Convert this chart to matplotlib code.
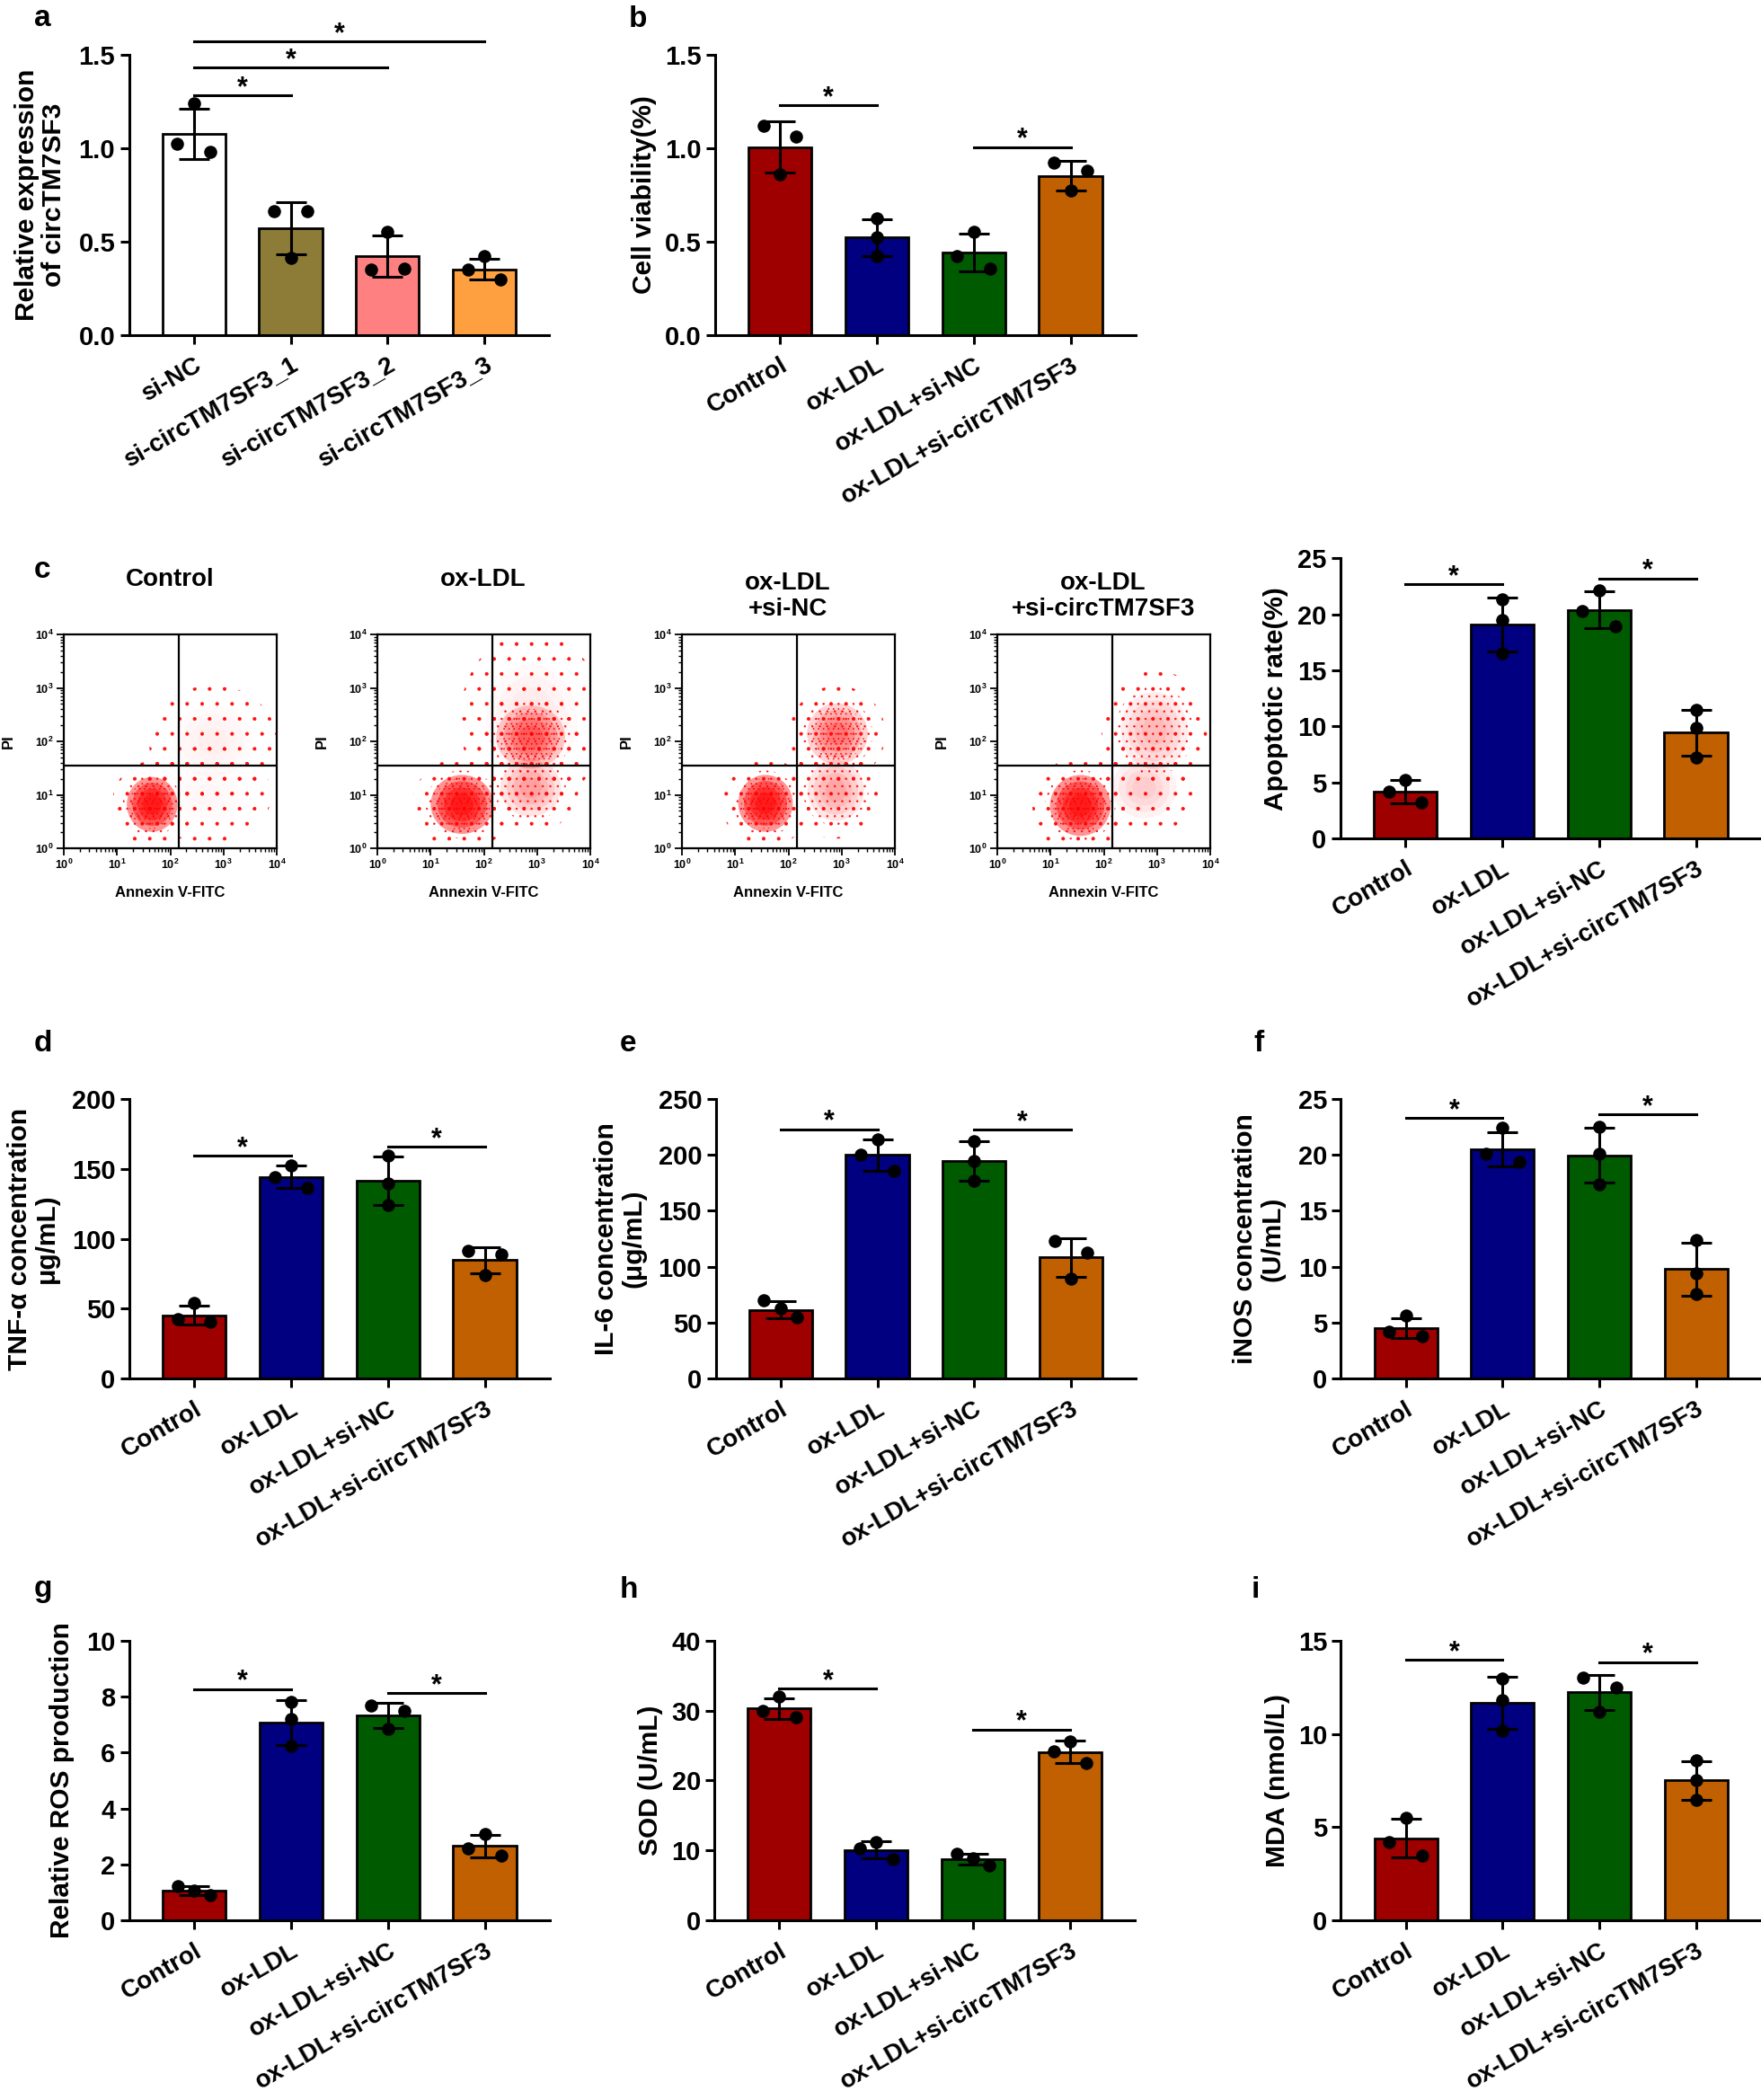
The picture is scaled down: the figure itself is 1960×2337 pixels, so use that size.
import matplotlib
matplotlib.use("Agg")
import matplotlib.pyplot as plt
from matplotlib.patches import Ellipse
from matplotlib.ticker import FormatStrFormatter, FixedLocator
import numpy as np

plt.rcParams['font.family'] = ['Liberation Sans', 'DejaVu Sans']
plt.rcParams['font.weight'] = 'bold'
plt.rcParams['mathtext.default'] = 'regular'
plt.rcParams['hatch.color'] = '#FF1010'
plt.rcParams['hatch.linewidth'] = 0.5

W, H = 1960, 2337

# ---------------- data ----------------
groups = ['Control', 'ox-LDL', 'ox-LDL+si-NC', 'ox-LDL+si-circTM7SF3']
groups_a = ['si-NC', 'si-circTM7SF3_1', 'si-circTM7SF3_2', 'si-circTM7SF3_3']

a_mean = [1.075, 0.57, 0.42, 0.35]
a_sd = [0.135, 0.14, 0.11, 0.055]
a_pts = [[1.02, 1.24, 0.98], [0.66, 0.41, 0.66], [0.35, 0.55, 0.355], [0.35, 0.42, 0.295]]

b_mean = [1.005, 0.52, 0.44, 0.85]
b_sd = [0.137, 0.10, 0.10, 0.08]
b_pts = [[1.12, 0.86, 1.06], [0.625, 0.52, 0.42], [0.42, 0.55, 0.355], [0.92, 0.77, 0.88]]

c_mean = [4.2, 19.1, 20.4, 9.43]
c_sd = [1.05, 2.4, 1.63, 2.07]
c_pts = [[4.2, 5.2, 3.2], [21.3, 19.5, 16.55], [20.3, 22.15, 18.9], [11.5, 9.85, 7.2]]

d_mean = [45.3, 144.4, 141.6, 84.75]
d_sd = [6.75, 7.9, 17.3, 9.25]
d_pts = [[42.4, 53.9, 40.4], [144.2, 152.5, 136.5], [159.5, 139.8, 124.3], [91.2, 74.2, 88.7]]

e_mean = [61.6, 199.8, 194.4, 108.4]
e_sd = [7.3, 14.3, 17.5, 17.3]
e_pts = [[69.9, 62.5, 54.6], [199.8, 214.0, 185.5], [212.0, 194.5, 177.0], [123.0, 89.0, 112.8]]

f_mean = [4.5, 20.5, 19.95, 9.78]
f_sd = [0.89, 1.55, 2.45, 2.4]
f_pts = [[4.19, 5.62, 3.81], [20.1, 22.4, 19.35], [22.5, 20.1, 17.4], [12.35, 9.44, 7.53]]

g_mean = [1.07, 7.08, 7.33, 2.66]
g_sd = [0.15, 0.8, 0.45, 0.4]
g_pts = [[1.22, 1.08, 0.92], [7.8, 7.19, 6.25], [7.68, 6.85, 7.5], [2.58, 3.09, 2.32]]

h_mean = [30.3, 10.1, 8.75, 24.1]
h_sd = [1.5, 1.25, 0.78, 1.56]
h_pts = [[29.9, 32.0, 29.0], [10.25, 11.25, 8.7], [9.5, 8.85, 7.85], [24.2, 25.6, 22.5]]

i_mean = [4.41, 11.68, 12.23, 7.51]
i_sd = [1.02, 1.39, 0.93, 1.04]
i_pts = [[4.22, 5.52, 3.49], [12.98, 11.83, 10.18], [13.02, 11.2, 12.49], [8.6, 7.52, 6.47]]

# significance bars: (from group, to group, height)
a_sig = [(0, 1, 1.28), (0, 2, 1.43), (0, 3, 1.57)]
b_sig = [(0, 1, 1.23), (2, 3, 1.005)]
c_sig = [(0, 1, 22.7), (2, 3, 23.2)]
d_sig = [(0, 1, 159.4), (2, 3, 165.8)]
e_sig = [(0, 1, 223.0), (2, 3, 222.4)]
f_sig = [(0, 1, 23.3), (2, 3, 23.6)]
g_sig = [(0, 1, 8.27), (2, 3, 8.13)]
h_sig = [(0, 1, 33.1), (2, 3, 27.3)]
i_sig = [(0, 1, 13.96), (2, 3, 13.85)]

# flow cytometry: populations (centre x, centre y, spread x, spread y, density), log10 units
flow_titles = ['Control', 'ox-LDL', 'ox-LDL\n+si-NC', 'ox-LDL\n+si-circTM7SF3']
flow_pops = [
    [(1.66, 0.82, 0.25, 0.27, 1.0), (2.8, 2.0, 0.4, 0.35, 0.12), (2.7, 1.0, 0.4, 0.3, 0.08)],
    [(1.59, 0.82, 0.31, 0.29, 1.0), (2.88, 2.08, 0.34, 0.31, 0.6), (2.88, 1.13, 0.3, 0.28, 0.4),
     (2.9, 2.4, 0.45, 0.55, 0.15)],
    [(1.57, 0.84, 0.27, 0.28, 1.0), (2.92, 2.14, 0.3, 0.3, 0.55), (2.89, 1.08, 0.28, 0.3, 0.38)],
    [(1.56, 0.8, 0.3, 0.3, 1.0), (2.95, 2.2, 0.33, 0.38, 0.32), (2.76, 1.13, 0.32, 0.3, 0.24)],
]
gate_x, gate_y = 2.16, 1.54

# ---------------- styling ----------------
pal4 = ['#9E0000', '#000080', '#005A00', '#C06000']
pal_a = ['#FFFFFF', '#8C7C38', '#FF8080', '#FFA040']
jit_lr = [-1, 0, 1]
jit_c = [0, 0, 0]

fig = plt.figure(figsize=(W / 100, H / 100), dpi=100)


def px_axes(x0, y0, x1, y1):
    return fig.add_axes([x0 / W, 1 - y1 / H, (x1 - x0) / W, (y1 - y0) / H])


def ftext(x, y, s, **kw):
    fig.text(x / W, 1 - y / H, s, **kw)


def bar_panel(x0, y0, y1, labels, means, sds, pts, jits, colors, ymax, ystep, fmt,
              sigs, ylab, ylab_x):
    unit = 107.8
    ax = px_axes(x0, y0, x0 + 4.34 * unit, y1)
    x = np.arange(len(means))
    ax.bar(x, means, width=0.65, color=colors, edgecolor='black', linewidth=2.0, zorder=2)
    ax.errorbar(x, means, yerr=sds, fmt='none', ecolor='black', elinewidth=2.2,
                capsize=12.5, capthick=2.2, zorder=3)
    for i, (p, j) in enumerate(zip(pts, jits)):
        ax.scatter(i + 0.17 * np.array(j), p, s=110, color='black', zorder=4,
                   clip_on=False, linewidths=0)
    ax.set_xlim(-0.67, 3.67)
    ax.set_ylim(0, ymax)
    ax.set_yticks(np.arange(0, ymax + ystep / 2, ystep))
    ax.yaxis.set_major_formatter(FormatStrFormatter(fmt))
    ax.set_xticks(x)
    ax.set_xticklabels(labels, rotation=30, ha='right', rotation_mode='anchor')
    for sp in ['top', 'right']:
        ax.spines[sp].set_visible(False)
    for sp in ['left', 'bottom']:
        ax.spines[sp].set_linewidth(2.2)
    ax.tick_params(direction='out', length=7, width=2.2, labelsize=21)
    ax.tick_params(axis='x', pad=8, labelsize=20)
    ax.tick_params(axis='y', pad=4)
    for t in ax.get_xticklabels() + ax.get_yticklabels():
        t.set_fontweight('bold')
    for i0, i1, yv in sigs:
        ax.plot([i0, i1], [yv, yv], color='black', lw=2.2, clip_on=False)
        ax.annotate('*', ((i0 + i1) / 2, yv), xytext=(0, 0), textcoords='offset points',
                    ha='center', va='baseline', fontsize=22, fontweight='bold',
                    annotation_clip=False)
    ftext(ylab_x, (y0 + y1) / 2, ylab, rotation=90, ha='center', va='center',
          fontsize=21.5, fontweight='bold', multialignment='center', linespacing=1.12)
    return ax


def flow_panel(x0, title, pops, title_y):
    ax = px_axes(x0, 706, x0 + 237, 944)
    ax.set_xlim(0, 4)
    ax.set_ylim(0, 4)
    for cx, cy, sx, sy, dens in pops:
        # sparse events around each population
        ax.add_patch(Ellipse((cx, cy), 6.0 * sx, 6.0 * sy, facecolor='none',
                             edgecolor='#FF1010', lw=0, hatch='.', zorder=1))
        if dens >= 0.3:
            ax.add_patch(Ellipse((cx, cy), 4.4 * sx, 4.4 * sy, facecolor='none',
                                 edgecolor='#FF1010', lw=0, hatch='..', zorder=1))
        if dens >= 0.5:
            ax.add_patch(Ellipse((cx, cy), 3.4 * sx, 3.4 * sy, facecolor='none',
                                 edgecolor='#FF1010', lw=0, hatch='...', zorder=1))
        # denser core
        for k in [1.9, 1.5, 1.1, 0.7]:
            ax.add_patch(Ellipse((cx, cy), 2 * k * sx, 2 * k * sy, facecolor='#FF0000',
                                 edgecolor='none', alpha=0.42 * dens ** 1.5, zorder=2))
    ax.axvline(gate_x, color='black', lw=1.6, zorder=3)
    ax.axhline(gate_y, color='black', lw=1.6, zorder=3)
    major = np.arange(5)
    minor = [d + np.log10(k) for d in range(4) for k in range(2, 10)]
    for axis in (ax.xaxis, ax.yaxis):
        axis.set_major_locator(FixedLocator(major))
        axis.set_minor_locator(FixedLocator(minor))
        axis.set_ticklabels([r'$10^{%d}$' % d for d in major])
    for sp in ax.spines.values():
        sp.set_linewidth(1.6)
        sp.set_zorder(4)
    ax.tick_params(which='major', direction='out', length=6, width=1.3, labelsize=9, pad=2)
    ax.tick_params(which='minor', direction='out', length=3, width=1.0)
    ax.set_xlabel('Annexin V-FITC', fontsize=12, fontweight='bold', va='center')
    ax.xaxis.set_label_coords(0.5, -49 / 238)
    ax.set_ylabel('PI', fontsize=12, fontweight='bold', va='center')
    ax.yaxis.set_label_coords(-62 / 237, 0.5)
    ftext(x0 + 118, title_y, title, ha='center', va='center', fontsize=20,
          fontweight='bold', linespacing=1.15)
    return ax


# ---------------- row 1 ----------------
bar_panel(143.5, 60.7, 372.5, groups_a, a_mean, a_sd, a_pts, [jit_lr] * 4, pal_a,
          1.5, 0.5, '%.1f', a_sig, 'Relative expression\nof circTM7SF3', 45)
bar_panel(795.9, 60.7, 372.5, groups, b_mean, b_sd, b_pts, [jit_lr, jit_c, jit_lr, jit_lr],
          pal4, 1.5, 0.5, '%.1f', b_sig, 'Cell viability(%)', 717)

# ---------------- row c ----------------
for k, x0 in enumerate([71, 420, 759, 1110]):
    ty = 663 if '\n' in flow_titles[k] else 645
    flow_panel(x0, flow_titles[k], flow_pops[k], ty)
bar_panel(1491.9, 621.3, 933, groups, c_mean, c_sd, c_pts, [jit_lr, jit_c, jit_lr, jit_c],
          pal4, 25, 5, '%d', c_sig, 'Apoptotic rate(%)', 1420)

# ---------------- row d-f ----------------
bar_panel(143.9, 1223, 1534.2, groups, d_mean, d_sd, d_pts, [jit_lr, jit_lr, jit_c, jit_lr],
          pal4, 200, 50, '%d', d_sig, 'TNF-α concentration\nμg/mL)', 37)
bar_panel(796.5, 1223, 1534.2, groups, e_mean, e_sd, e_pts, [jit_lr, jit_lr, jit_c, jit_lr],
          pal4, 250, 50, '%d', e_sig, 'IL-6 concentration\n(μg/mL)', 690)
bar_panel(1492.4, 1223, 1534.2, groups, f_mean, f_sd, f_pts, [jit_lr, jit_lr, jit_c, jit_c],
          pal4, 25, 5, '%d', f_sig, 'iNOS concentration\n(U/mL)', 1401)

# ---------------- row g-i ----------------
bar_panel(143.9, 1825.7, 2137.2, groups, g_mean, g_sd, g_pts, [jit_lr, jit_c, jit_lr, jit_lr],
          pal4, 10, 2, '%d', g_sig, 'Relative ROS production', 69)
bar_panel(795.2, 1825.7, 2137.2, groups, h_mean, h_sd, h_pts, [jit_lr] * 4,
          pal4, 40, 10, '%d', h_sig, 'SOD (U/mL)', 724)
bar_panel(1492.4, 1825.7, 2137.2, groups, i_mean, i_sd, i_pts, [jit_lr, jit_c, jit_lr, jit_c],
          pal4, 15, 5, '%d', i_sig, 'MDA (nmol/L)', 1422)

# panel letters
for s, x, y in [('a', 38, 29), ('b', 700, 30), ('c', 38, 643), ('d', 38, 1170),
                ('e', 690, 1170), ('f', 1395, 1170), ('g', 38, 1777), ('h', 690, 1778),
                ('i', 1393, 1778)]:
    ftext(x, y, s, ha='left', va='baseline', fontsize=24, fontweight='bold')

fig.savefig('out.png', dpi=100)
